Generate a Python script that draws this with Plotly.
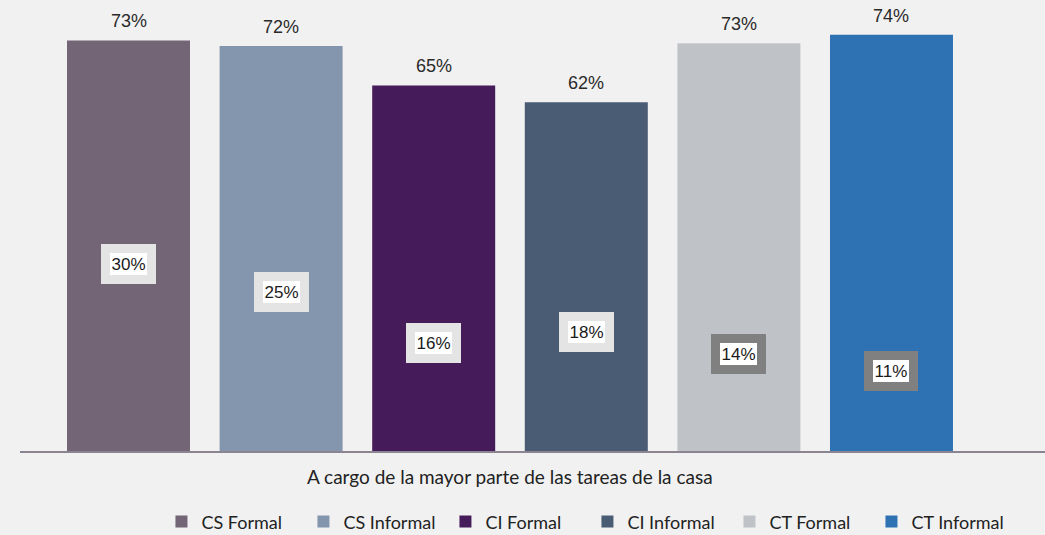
import plotly.graph_objects as go

# ---- data ----
series_names = ["CS Formal", "CS Informal", "CI Formal", "CI Informal", "CT Formal", "CT Informal"]
category_label = "A cargo de la mayor parte de las tareas de la casa"
top_values = [73.0, 72.0, 65.0, 62.0, 72.5, 74.0]
top_labels = ["73%", "72%", "65%", "62%", "73%", "74%"]
inner_values = [30, 25, 16, 18, 14, 11]
inner_labels = ["30%", "25%", "16%", "18%", "14%", "11%"]

# ---- styles ----
colors = ["#736576", "#8495ae", "#461b5a", "#4a5b74", "#bfc3c8", "#2e72b3"]
inner_border = ["#e4e4e4", "#e4e4e4", "#e4e4e4", "#e4e4e4", "#808080", "#808080"]
bg = "#f1f1f1"
bar_w = 0.806

fig = go.Figure()
for i, name in enumerate(series_names):
    fig.add_trace(go.Bar(
        x=[i], y=[top_values[i]], name=name, width=bar_w,
        marker=dict(color=colors[i], line=dict(width=0)),
        hoverinfo="skip",
    ))
    fig.add_annotation(
        x=i, y=top_values[i], text=top_labels[i], showarrow=False,
        yanchor="middle", yshift=19,
        font=dict(family="Liberation Sans", size=18, color="#2a2a2a"),
    )
    fig.add_annotation(
        x=i, y=inner_values[i], text=inner_labels[i], showarrow=False,
        yanchor="middle", yshift=18,
        bgcolor="white", bordercolor=inner_border[i], borderwidth=9, borderpad=1.5,
        font=dict(family="Liberation Sans", size=17, color="#1a1a1a"),
    )

fig.add_annotation(
    x=(len(series_names) - 1) / 2, y=0, text=category_label, showarrow=False,
    yanchor="middle", yshift=-25,
    font=dict(family="Lato", size=19, color="#222222"),
)

fig.update_layout(
    width=1045, height=535,
    margin=dict(l=20, r=0, t=0, b=84, autoexpand=False),
    paper_bgcolor=bg, plot_bgcolor=bg,
    barmode="overlay",
    showlegend=True,
    legend=dict(
        orientation="h", x=0.138, xanchor="left", y=-0.157, yanchor="middle",
        font=dict(family="Lato", size=18, color="#222222"),
        entrywidth=97, entrywidthmode="pixels",
        bgcolor="rgba(0,0,0,0)",
    ),
    xaxis=dict(
        range=[-0.711, 6.006], showticklabels=False, ticks="", showgrid=False,
        zeroline=False, showline=True, linecolor="#8a8590", linewidth=2,
        fixedrange=True,
    ),
    yaxis=dict(
        range=[0, 80.2], visible=False, showgrid=False, zeroline=False,
        fixedrange=True,
    ),
)

fig.write_html(
    "out.html",
    config={"displayModeBar": False},
    post_script="document.body.style.margin='0';document.body.style.background='%s';" % bg,
)
